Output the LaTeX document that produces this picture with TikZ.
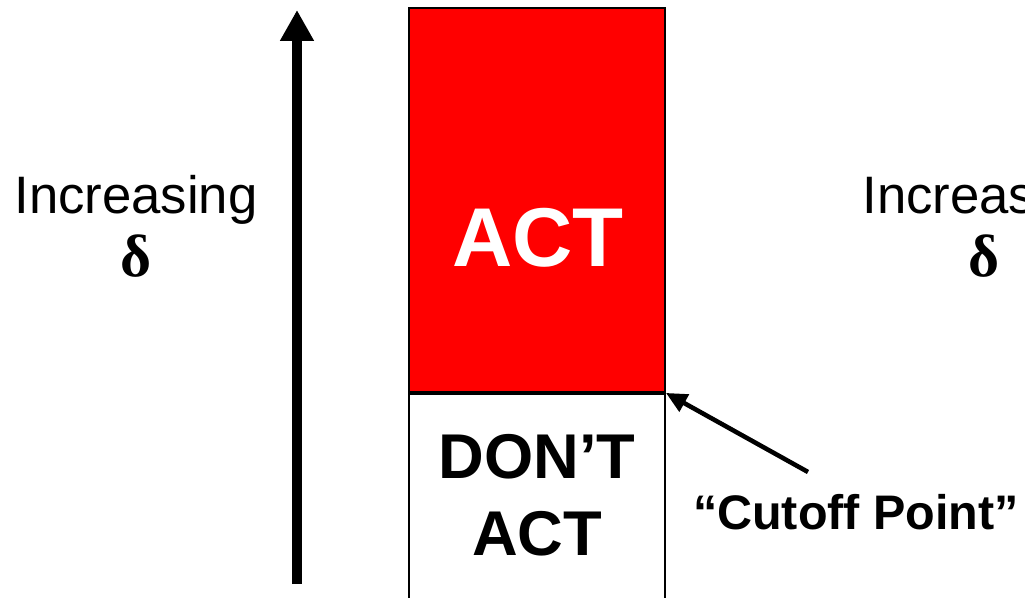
\documentclass[tikz,border=0pt]{standalone}
\usepackage{fontspec}
\setmainfont{Liberation Sans}
\newfontfamily\greekfont{Liberation Serif}
\usetikzlibrary{arrows.meta,positioning}
\newcommand{\bigdelta}{{\greekfont\bfseries\fontsize{34}{39}\selectfont δ}}
\begin{document}
\begin{tikzpicture}[x=0.02cm,y=-0.02cm,
  zone/.style={draw,line width=1.1pt,minimum width=5.12cm,inner sep=0pt},
  sidelabel/.style={align=center,font=\fontsize{30}{39}\selectfont,inner sep=0pt},
  bigword/.style={font=\bfseries\fontsize{47.5}{57}\selectfont,inner sep=0pt},
  smallword/.style={align=center,font=\bfseries\fontsize{36}{43.7}\selectfont,inner sep=0pt}]
  \useasboundingbox (0,0) rectangle (1025,598);
  \clip (0,0) rectangle (1025,598);
  \node[zone,fill=red,minimum height=7.68cm] (act) at (537,200) {};
  \node[zone,fill=white,minimum height=5cm,below=0pt of act] (dont) {};
  \node[bigword,text=white] (actword) at (538,238) {ACT};
  \node[smallword] (dontword) at (537,495) {DON’T\\ACT};
  \coordinate (low) at (297,584);
  \coordinate (high) at (297,10);
  \draw[line width=6pt,-{Triangle[length=0.62cm,width=0.64cm]}] (low) -- (high);
  \node[sidelabel] (leftlabel) at (136,226) {Increasing\\[-3pt]\bigdelta};
  \node[sidelabel] (rightlabel) at (984,226) {Increasing\\[-3pt]\bigdelta};
  \node[font=\bfseries\fontsize{27.6}{33}\selectfont,inner sep=0pt] (cutoff) at (856,512) {“Cutoff Point”};
  \coordinate (cutstart) at (808,472);
  \draw[line width=2.6pt,-{Triangle[length=0.42cm,width=0.38cm]}] (cutstart) -- (act.south east);
\end{tikzpicture}
\end{document}
